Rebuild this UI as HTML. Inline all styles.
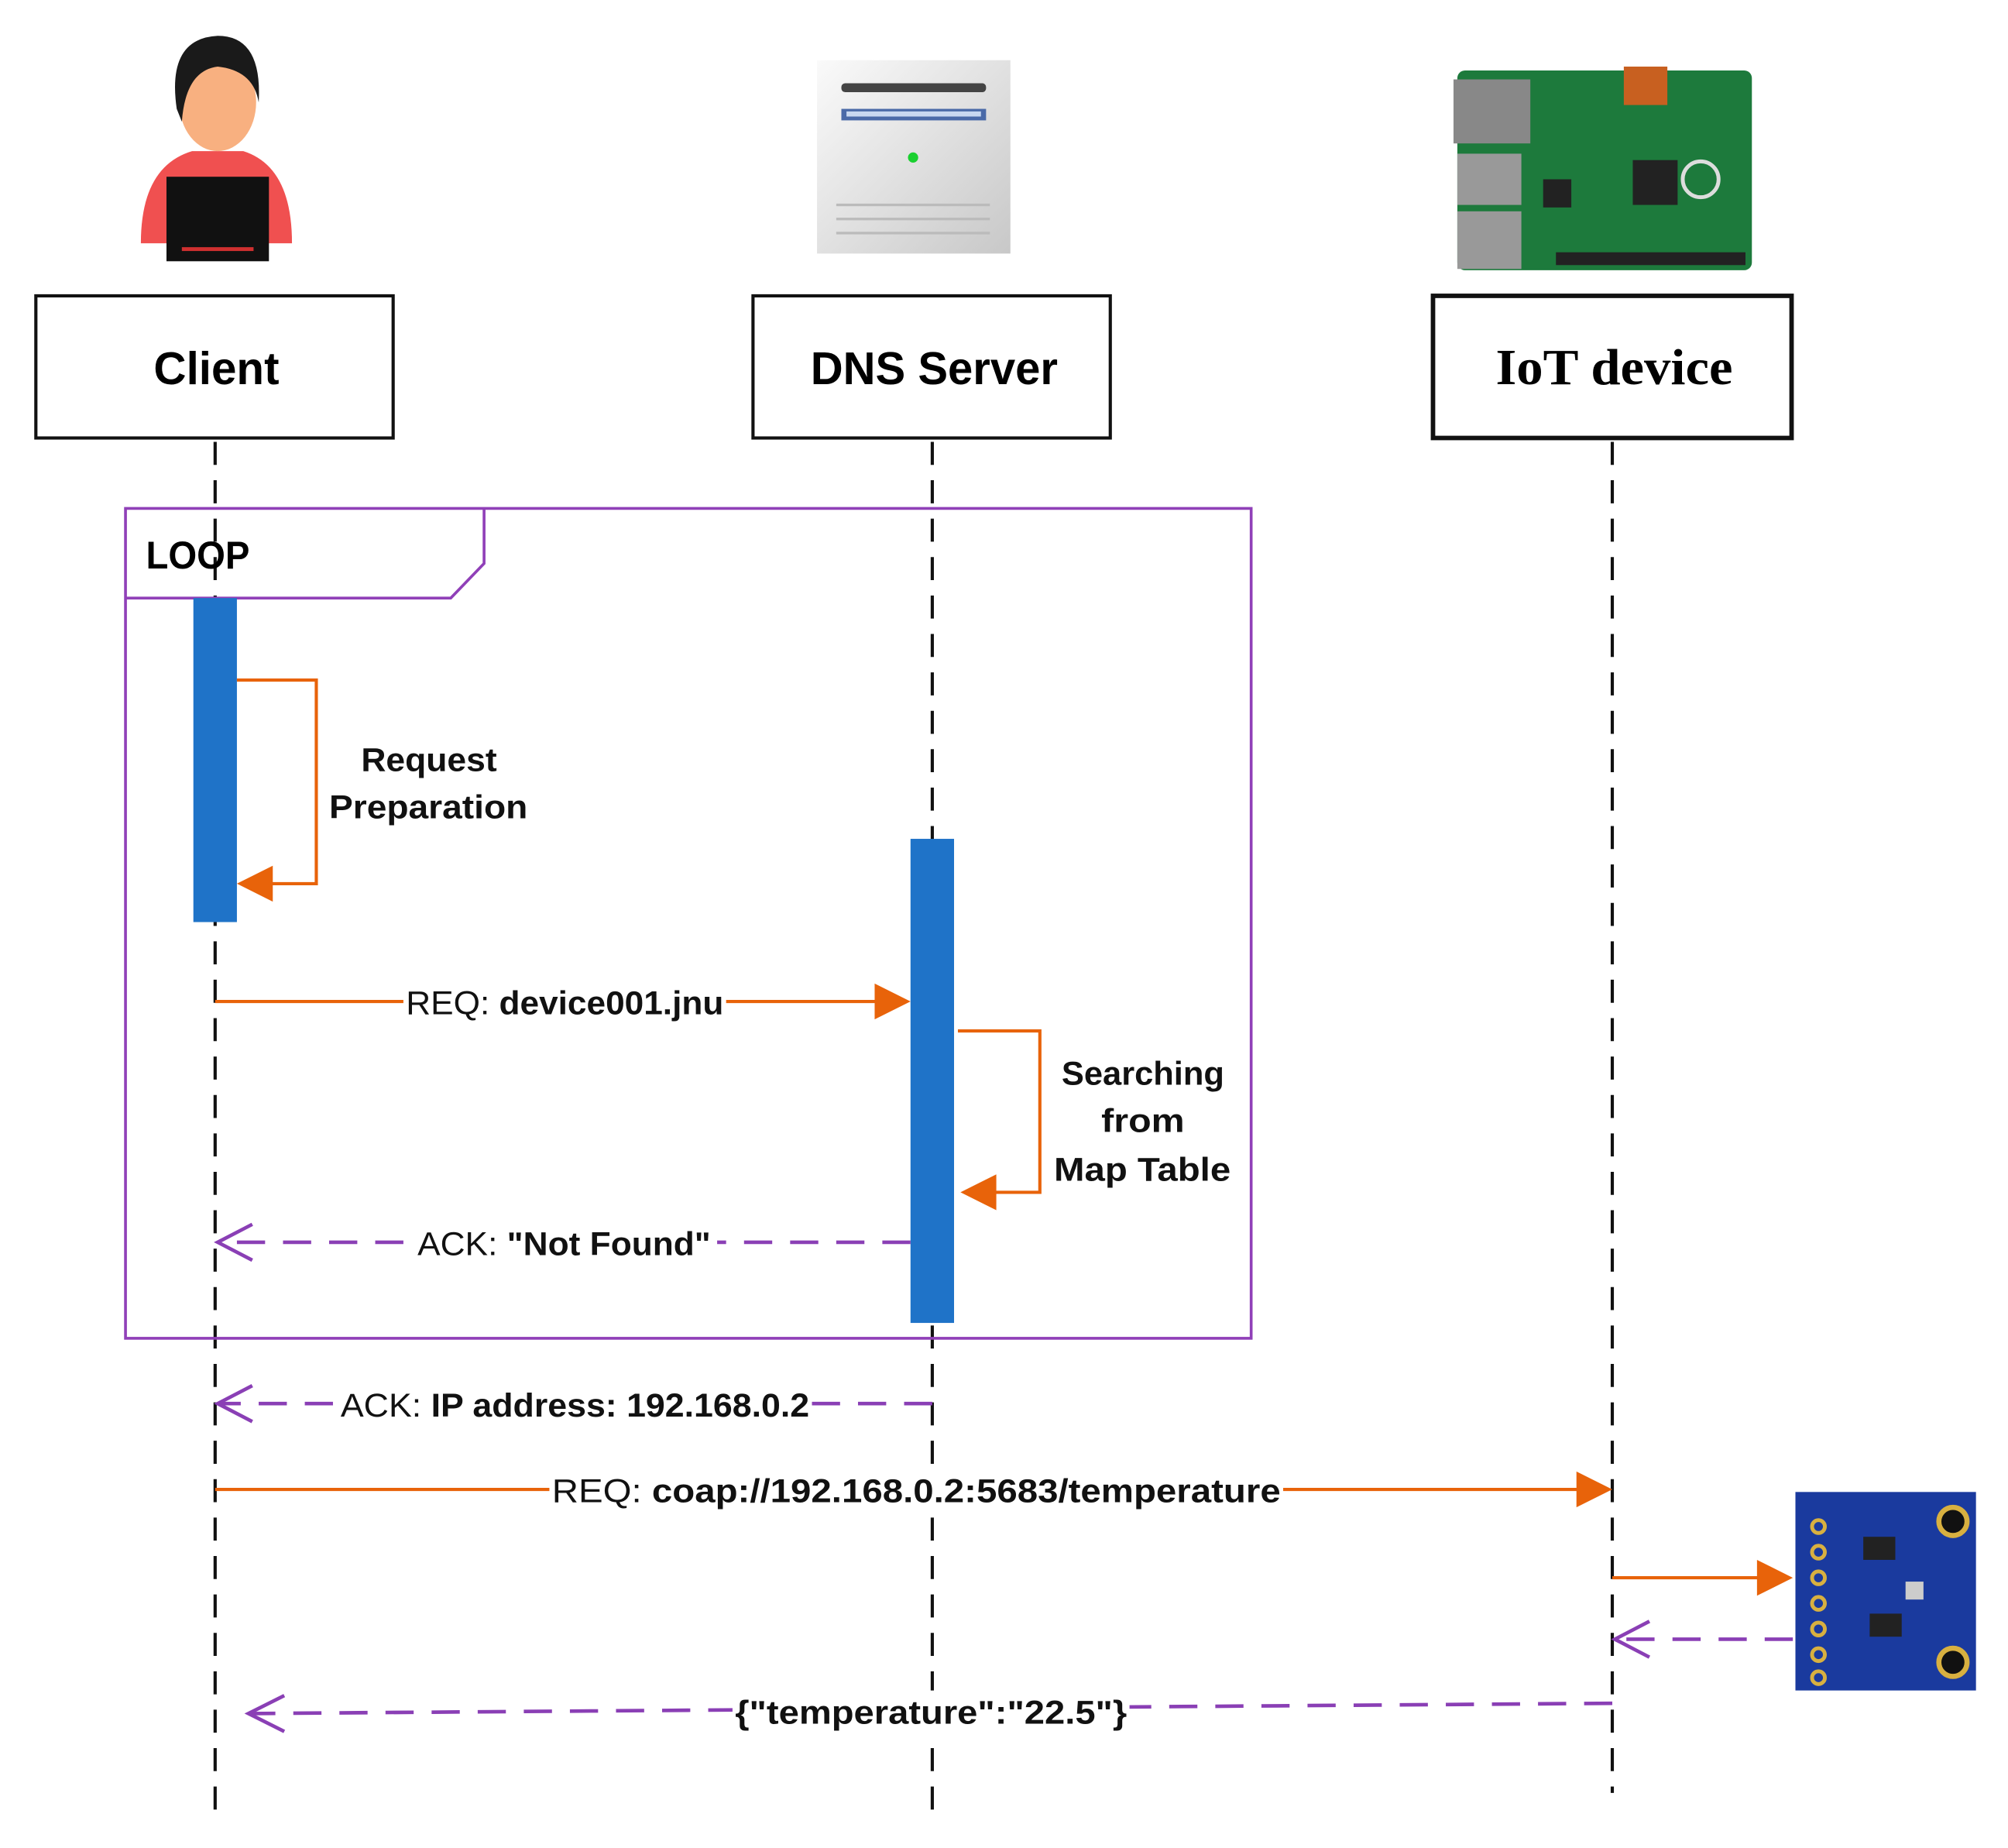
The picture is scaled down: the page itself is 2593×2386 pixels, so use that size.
<!DOCTYPE html>
<html><head><meta charset="utf-8"><style>
html,body{margin:0;padding:0;background:#fff;}
svg{display:block;}
text{font-family:"Liberation Sans",sans-serif;}
</style></head><body>
<svg width="2593" height="2386" viewBox="0 0 1568 1443" preserveAspectRatio="none" xmlns="http://www.w3.org/2000/svg">
<defs>
<linearGradient id="srv" x1="0" y1="0" x2="1" y2="1"><stop offset="0" stop-color="#fafafa"/><stop offset="1" stop-color="#c8c8c8"/></linearGradient>
</defs>
<!-- person -->
<path d="M110 190 Q110 130 150 118 L190 118 Q228 130 228 190 Z" fill="#f05050"/>
<ellipse cx="170" cy="80" rx="30" ry="38" fill="#f8b080"/>
<path d="M138 85 Q130 30 170 28 Q205 28 202 80 Q198 55 170 52 Q145 55 142 95 Z" fill="#1a1a1a"/>
<rect x="130" y="138" width="80" height="66" fill="#111"/>
<rect x="142" y="193" width="56" height="3" fill="#d03030"/>
<!-- server -->
<rect x="638" y="47" width="151" height="151" fill="url(#srv)"/>
<rect x="657" y="65" width="113" height="7" rx="3" fill="#444"/>
<rect x="657" y="85" width="113" height="9" fill="#4a6aa8"/>
<rect x="661" y="87" width="105" height="4" fill="#c8d8f0"/>
<circle cx="713" cy="123" r="4" fill="#1ad030"/>
<rect x="653" y="159" width="120" height="2" fill="#bbb"/>
<rect x="653" y="170" width="120" height="2" fill="#bbb"/>
<rect x="653" y="181" width="120" height="2" fill="#bbb"/>
<!-- raspberry pi -->
<rect x="1138" y="55" width="230" height="156" rx="6" fill="#1d7a3c"/>
<rect x="1135" y="62" width="60" height="50" fill="#888"/>
<rect x="1138" y="120" width="50" height="40" fill="#999"/>
<rect x="1138" y="165" width="50" height="45" fill="#999"/>
<rect x="1268" y="52" width="34" height="30" fill="#c86020"/>
<rect x="1275" y="125" width="35" height="35" fill="#222"/>
<rect x="1205" y="140" width="22" height="22" fill="#222"/>
<rect x="1215" y="197" width="148" height="10" fill="#222"/>
<circle cx="1328" cy="140" r="14" fill="none" stroke="#ddd" stroke-width="3"/>
<!-- boxes -->
<g fill="#fff" stroke="#111" stroke-width="2.5">
<rect x="28" y="231" width="279" height="111"/>
<rect x="588" y="231" width="279" height="111"/>
<rect x="1119" y="231" width="280" height="111" stroke-width="3.5"/>
</g>
<text x="120" y="300" font-size="36" font-weight="bold" textLength="98" lengthAdjust="spacingAndGlyphs">Client</text>
<text x="633" y="300" font-size="36" font-weight="bold" textLength="193" lengthAdjust="spacingAndGlyphs">DNS Server</text>
<text x="1168" y="300" font-size="40" font-weight="bold" textLength="185" lengthAdjust="spacingAndGlyphs" style="font-family:'Liberation Serif',serif">IoT device</text>
<!-- lifelines -->
<g stroke="#111" stroke-width="2.5" stroke-dasharray="18,12">
<line x1="168" y1="345" x2="168" y2="1420"/>
<line x1="728" y1="345" x2="728" y2="1420"/>
<line x1="1259" y1="345" x2="1259" y2="1400"/>
</g>
<!-- loop frame -->
<rect x="98" y="397" width="879" height="648" fill="none" stroke="#9040b8" stroke-width="2.2"/>
<path d="M98 467 L352 467 L378 440 L378 397" fill="none" stroke="#9040b8" stroke-width="2.2"/>
<text x="114" y="444" font-size="30" font-weight="bold" textLength="81" lengthAdjust="spacingAndGlyphs">LOOP</text>
<!-- activation bars -->
<rect x="151" y="467" width="34" height="253" fill="#1f73c8"/>
<rect x="711" y="655" width="34" height="378" fill="#1f73c8"/>
<!-- self arrows -->
<g stroke="#e8630a" stroke-width="2.5" fill="none">
<path d="M185 531 H247 V690 H205"/>
<path d="M748 805 H812 V931 H770"/>
<line x1="168" y1="782" x2="690" y2="782"/>
<line x1="168" y1="1163" x2="1235" y2="1163"/>
<line x1="1259" y1="1232" x2="1375" y2="1232"/>
</g>
<g fill="#e8630a">
<polygon points="185,690 213,676 213,704"/>
<polygon points="750,931 778,917 778,945"/>
<polygon points="711,782 683,768 683,796"/>
<polygon points="1259,1163 1231,1149 1231,1177"/>
<polygon points="1400,1232 1372,1218 1372,1246"/>
</g>
<!-- dashed purple -->
<g stroke="#8a3fb5" stroke-width="2.8" fill="none" stroke-dasharray="22,14">
<line x1="711" y1="970" x2="172" y2="970"/>
<path d="M728 1096 H172"/>
<line x1="1400" y1="1280" x2="1262" y2="1280"/>
<path d="M1259 1330 L196 1338"/>
</g>
<g stroke="#8a3fb5" stroke-width="2.8" fill="none">
<path d="M197 956 L170 970 L197 984"/>
<path d="M197 1082 L170 1096 L197 1110"/>
<path d="M1288 1266 L1261 1280 L1288 1294"/>
<path d="M222 1324 L194 1338 L222 1352"/>
</g>
<!-- labels -->
<g font-size="26" fill="#111" font-weight="bold">
<text x="282" y="602" textLength="106" lengthAdjust="spacingAndGlyphs">Request</text>
<text x="257" y="639" textLength="155" lengthAdjust="spacingAndGlyphs">Preparation</text>
<text x="829" y="847" textLength="127" lengthAdjust="spacingAndGlyphs">Searching</text>
<text x="860" y="884" textLength="65" lengthAdjust="spacingAndGlyphs">from</text>
<text x="823" y="922" textLength="138" lengthAdjust="spacingAndGlyphs">Map Table</text>
</g>
<g font-size="26" fill="#111">
<rect x="315" y="766" width="252" height="32" fill="#fff"/>
<text x="317" y="792" textLength="248" lengthAdjust="spacingAndGlyphs">REQ: <tspan font-weight="bold">device001.jnu</tspan></text>
<rect x="324" y="954" width="236" height="32" fill="#fff"/>
<text x="326" y="980" textLength="229" lengthAdjust="spacingAndGlyphs">ACK: <tspan font-weight="bold">"Not Found"</tspan></text>
<rect x="264" y="1080" width="370" height="32" fill="#fff"/>
<text x="266" y="1106" textLength="366" lengthAdjust="spacingAndGlyphs">ACK: <tspan font-weight="bold">IP address: 192.168.0.2</tspan></text>
<rect x="429" y="1147" width="573" height="32" fill="#fff"/>
<text x="431" y="1173" textLength="569" lengthAdjust="spacingAndGlyphs">REQ: <tspan font-weight="bold">coap://192.168.0.2:5683/temperature</tspan></text>
<rect x="572" y="1320" width="310" height="34" fill="#fff"/>
<text x="574" y="1346" font-weight="bold" textLength="306" lengthAdjust="spacingAndGlyphs">{"temperature":"22.5"}</text>
</g>
<!-- sensor -->
<rect x="1402" y="1165" width="141" height="155" fill="#1a3a9e"/>
<g fill="none" stroke="#d8b040" stroke-width="3">
<circle cx="1420" cy="1192" r="5"/><circle cx="1420" cy="1212" r="5"/><circle cx="1420" cy="1232" r="5"/><circle cx="1420" cy="1252" r="5"/><circle cx="1420" cy="1272" r="5"/><circle cx="1420" cy="1292" r="5"/><circle cx="1420" cy="1310" r="5"/>
</g>
<circle cx="1525" cy="1188" r="11" fill="#111" stroke="#d8b040" stroke-width="4"/>
<circle cx="1525" cy="1298" r="11" fill="#111" stroke="#d8b040" stroke-width="4"/>
<rect x="1455" y="1200" width="25" height="18" fill="#222"/>
<rect x="1460" y="1260" width="25" height="18" fill="#222"/>
<rect x="1488" y="1235" width="14" height="14" fill="#ccc"/>
</svg>
</body></html>
